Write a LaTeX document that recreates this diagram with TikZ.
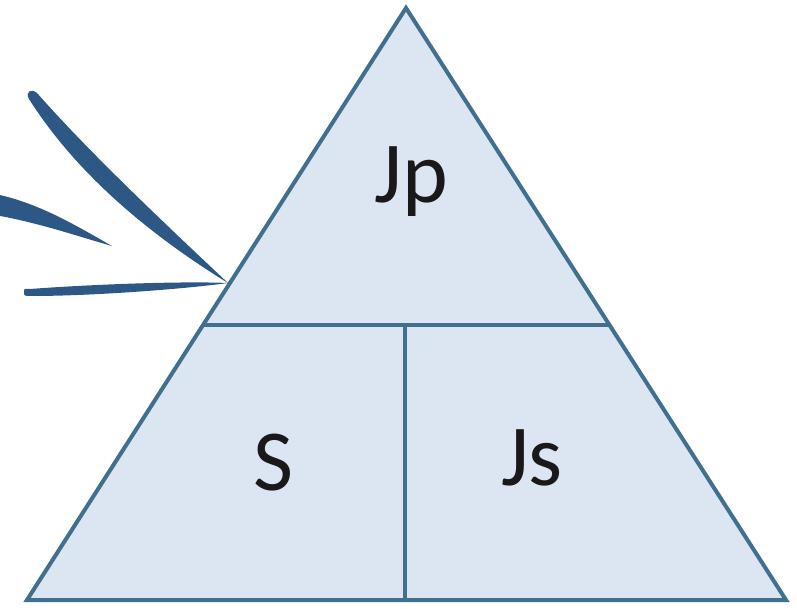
\documentclass[tikz,border=0pt]{standalone}
\usepackage{fontspec}
\setmainfont{Carlito}
\definecolor{trifill}{HTML}{DCE6F2}
\definecolor{triline}{HTML}{41708F}
\definecolor{brush}{HTML}{2D5886}
\begin{document}
\begin{tikzpicture}[x=1pt,y=-1pt,
  tri/.style={fill=trifill,draw=triline,line width=4pt,line join=miter},
  divider/.style={draw=triline,line width=4pt},
  brushstroke/.style={fill=brush},
  label/.style={font=\fontsize{87}{100}\selectfont,text=black!90,anchor=base,inner sep=0pt}]
\useasboundingbox (0,0) rectangle (797,609);
% triangle corners
\coordinate (apex) at (406,8);
\coordinate (bl) at (27,600);
\coordinate (br) at (786,600);
\coordinate (ml) at (203,325);
\coordinate (mr) at (609,325);
\coordinate (mc) at (405,325);
\coordinate (bc) at (405,600);
\path[tri] (apex) -- (br) -- (bl) -- cycle;
\draw[divider] (ml) -- (mr);
\draw[divider] (mc) -- (bc);
% labels
\node[label] (jp) at (411,203) {Jp};
\node[label] (s) at (273,490) {S};
\node[label] (js) at (532,485) {Js};
% brush strokes
\coordinate (tip) at (228,283);
\fill[brushstroke] (29,99) .. controls (25,92) and (31,88) .. (37,93)
  .. controls (85,147.4) and (150,209.8) .. (tip)
  .. controls (134.7,225.6) and (69.7,163.2) .. (29,99) -- cycle;
\fill[brushstroke] (-5,194) .. controls (40,203) and (80,228) .. (112,246)
  .. controls (80,237) and (40,223) .. (-5,215) -- cycle;
\fill[brushstroke] (24,292) .. controls (24,288.5) .. (30,289)
  .. controls (90,284.5) and (180,281) .. (tip)
  .. controls (180,289.5) and (90,296) .. (32,296)
  .. controls (24,296) .. (24,292) -- cycle;
\end{tikzpicture}
\end{document}
